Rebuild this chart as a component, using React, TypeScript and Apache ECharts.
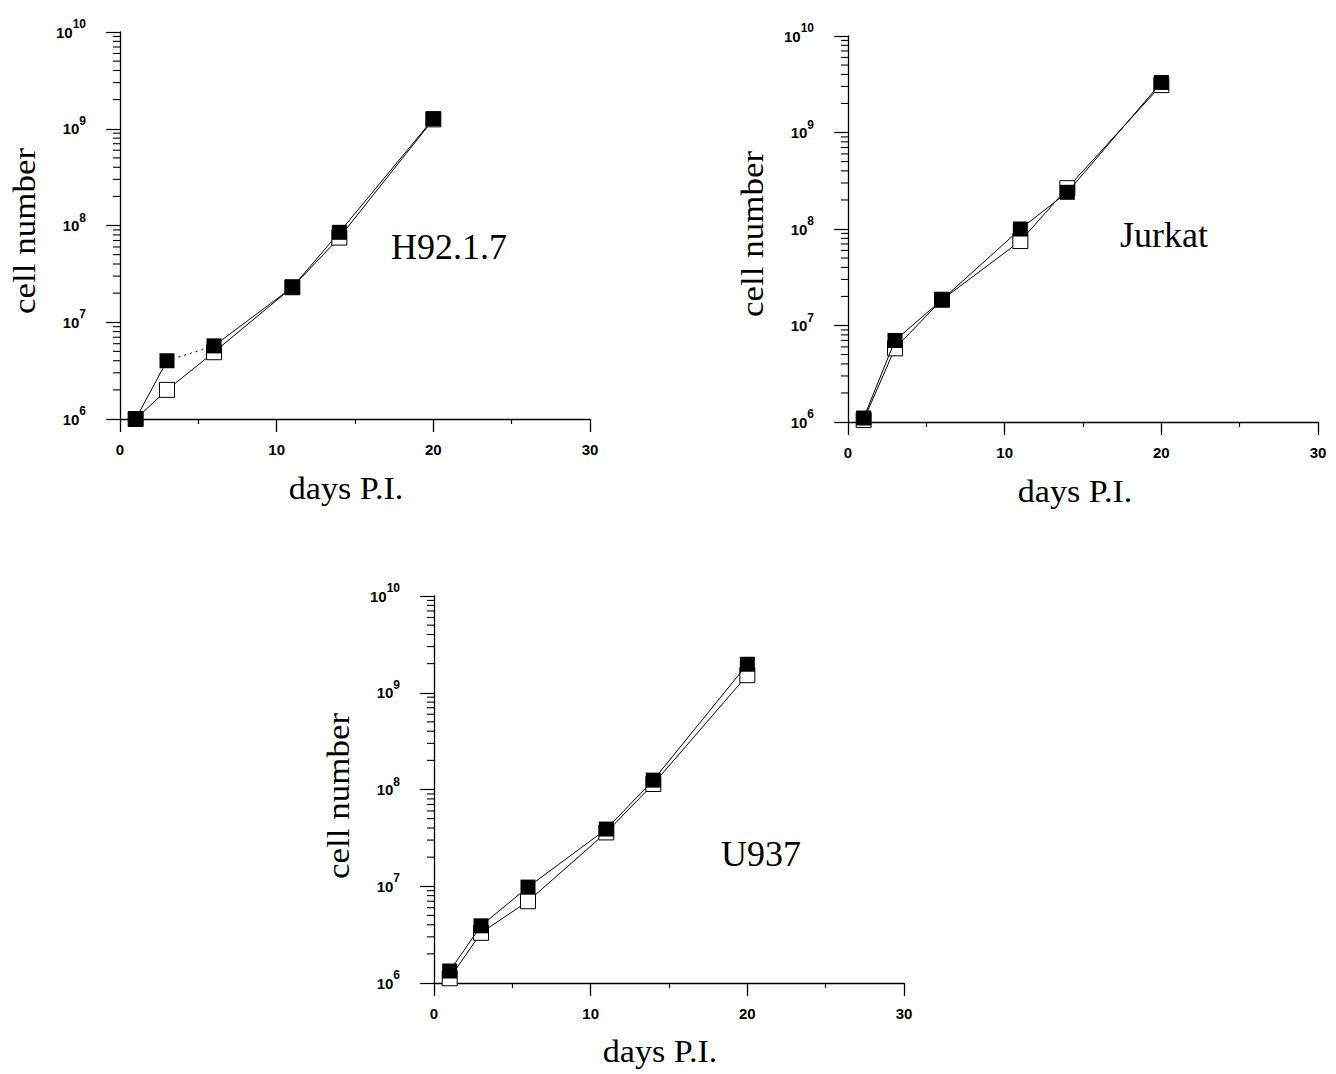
import React, { useEffect, useRef } from "react";
import * as echarts from "echarts";

const days = [1, 3, 6, 11, 14, 20];
const h92Filled = [1.0e6, 4.0e6, 5.7e6, 2.3e7, 8.5e7, 1.27e9];
const h92Open = [1.0e6, 2.0e6, 4.9e6, 2.3e7, 7.5e7, 1.25e9];
const jurkatFilled = [1.1e6, 7.0e6, 1.85e7, 1.0e8, 2.4e8, 3.3e9];
const jurkatOpen = [1.05e6, 5.8e6, 1.85e7, 7.5e7, 2.65e8, 3.1e9];
const u937Filled = [1.33e6, 3.9e6, 9.8e6, 3.9e7, 1.25e8, 1.97e9];
const u937Open = [1.12e6, 3.3e6, 7.0e6, 3.6e7, 1.14e8, 1.52e9];

const yMin = 1e6;
const yMax = 1e10;
const panelNames = ["H92.1.7", "Jurkat", "U937"];
const xTitle = "days P.I.";
const yTitle = "cell number";

const SANS = "Liberation Sans, Arial, sans-serif";
const SERIF = "Liberation Serif, Times New Roman, serif";

const grids = [
  { left: 120, top: 32, width: 470, height: 387 },
  { left: 848, top: 36, width: 470, height: 386 },
  { left: 434, top: 596, width: 470, height: 387 },
];

const yTitlePos = [
  { x: 25, y: 231 },
  { x: 753, y: 234 },
  { x: 339, y: 796 },
];
const xTitlePos = [
  { x: 346, y: 489 },
  { x: 1075, y: 492 },
  { x: 660, y: 1052 },
];
const panelLabelPos = [
  { x: 391, y: 247 },
  { x: 1120, y: 235 },
  { x: 721, y: 854 },
];

function pairs(vals: number[]) {
  return days.map((d, i) => [d, vals[i]]);
}

function minorValues() {
  const out: number[][] = [];
  for (let e = 6; e < 10; e++) {
    for (let m = 2; m <= 9; m++) out.push([0, m * Math.pow(10, e)]);
  }
  return out;
}

export default function App() {
  const ref = useRef<HTMLDivElement>(null);
  useEffect(() => {
    if (!ref.current) return;
    const chart = echarts.init(ref.current, null, { renderer: "svg" });

    const xAxes = grids.map((_, i) => ({
      type: "value",
      gridIndex: i,
      min: 0,
      max: 30,
      interval: 10,
      axisLine: { show: true, onZero: false, lineStyle: { color: "#000", width: 1.3 } },
      axisTick: { show: true, length: 13, lineStyle: { color: "#000", width: 1.3 } },
      minorTick: { show: true, splitNumber: 2, length: 5, lineStyle: { color: "#000", width: 1.2 } },
      splitLine: { show: false },
      axisLabel: {
        margin: 23,
        color: "#000",
        fontFamily: SANS,
        fontWeight: "bold",
        fontSize: 15,
      },
    }));

    const yAxes = grids.map((_, i) => ({
      type: "log",
      logBase: 10,
      gridIndex: i,
      min: yMin,
      max: yMax,
      axisLine: { show: true, onZero: false, lineStyle: { color: "#000", width: 1.3 } },
      axisTick: { show: true, length: 14, lineStyle: { color: "#000", width: 1.2 } },
      splitLine: { show: false },
      axisLabel: {
        margin: 34,
        color: "#000",
        formatter: (v: number) => `{b|10}{s|${Math.round(Math.log10(v))}}`,
        rich: {
          b: { fontFamily: SANS, fontWeight: "bold", fontSize: 15, color: "#000" },
          s: {
            fontFamily: SANS,
            fontWeight: "bold",
            fontSize: 12,
            color: "#000",
            padding: [0, 0, 16, 0],
          },
        },
      },
    }));

    const panelData = [
      { filled: h92Filled, open: h92Open, dotted: true },
      { filled: jurkatFilled, open: jurkatOpen, dotted: false },
      { filled: u937Filled, open: u937Open, dotted: false },
    ];

    const series: any[] = [];
    panelData.forEach((p, i) => {
      series.push({
        type: "custom",
        xAxisIndex: i,
        yAxisIndex: i,
        silent: true,
        clip: false,
        data: minorValues(),
        renderItem: (params: any, api: any) => {
          const pt = api.coord([api.value(0), api.value(1)]);
          return {
            type: "line",
            shape: { x1: pt[0] - 7, y1: pt[1], x2: pt[0], y2: pt[1] },
            style: { stroke: "#000", lineWidth: 1.1 },
          };
        },
      });
      series.push({
        type: "line",
        xAxisIndex: i,
        yAxisIndex: i,
        data: pairs(p.open),
        symbol: "rect",
        symbolSize: 15,
        showSymbol: true,
        lineStyle: { color: "#000", width: 1 },
        itemStyle: { color: "#fff", borderColor: "#000", borderWidth: 1, opacity: 1 },
        z: 3,
      });
      const fp = pairs(p.filled);
      if (p.dotted) {
        series.push({
          type: "line",
          xAxisIndex: i,
          yAxisIndex: i,
          data: fp.slice(0, 2),
          symbol: "none",
          lineStyle: { color: "#000", width: 1 },
          z: 2,
        });
        series.push({
          type: "line",
          xAxisIndex: i,
          yAxisIndex: i,
          data: fp.slice(1, 3),
          symbol: "none",
          lineStyle: { color: "#000", width: 1, type: [2, 4] },
          z: 2,
        });
        series.push({
          type: "line",
          xAxisIndex: i,
          yAxisIndex: i,
          data: fp.slice(2),
          symbol: "none",
          lineStyle: { color: "#000", width: 1 },
          z: 2,
        });
        series.push({
          type: "scatter",
          xAxisIndex: i,
          yAxisIndex: i,
          data: fp,
          symbol: "rect",
          symbolSize: 15,
          itemStyle: { color: "#000", opacity: 1 },
          z: 4,
        });
      } else {
        series.push({
          type: "line",
          xAxisIndex: i,
          yAxisIndex: i,
          data: fp,
          symbol: "rect",
          symbolSize: 15,
          showSymbol: true,
          lineStyle: { color: "#000", width: 1 },
          itemStyle: { color: "#000", borderColor: "#000", borderWidth: 0, opacity: 1 },
          z: 4,
        });
      }
    });

    const graphics: any[] = [];
    grids.forEach((_, i) => {
      graphics.push({
        type: "text",
        x: yTitlePos[i].x,
        y: yTitlePos[i].y,
        rotation: Math.PI / 2,
        scaleX: 1.13,
        style: {
          text: yTitle,
          font: `31px ${SERIF}`,
          fill: "#000",
          textAlign: "center",
          textVerticalAlign: "middle",
          align: "center",
          verticalAlign: "middle",
        },
      });
      graphics.push({
        type: "text",
        x: xTitlePos[i].x,
        y: xTitlePos[i].y,
        scaleX: 1.1,
        style: {
          text: xTitle,
          font: `31px ${SERIF}`,
          fill: "#000",
          textAlign: "center",
          textVerticalAlign: "middle",
          align: "center",
          verticalAlign: "middle",
        },
      });
      graphics.push({
        type: "text",
        x: panelLabelPos[i].x,
        y: panelLabelPos[i].y,
        style: {
          text: panelNames[i],
          font: `36px ${SERIF}`,
          fill: "#000",
          textAlign: "left",
          textVerticalAlign: "middle",
          align: "left",
          verticalAlign: "middle",
        },
      });
    });

    chart.setOption({
      animation: false,
      backgroundColor: "#fff",
      grid: grids.map((g) => ({ ...g, containLabel: false })),
      xAxis: xAxes,
      yAxis: yAxes,
      series,
      graphic: graphics,
    });

    return () => chart.dispose();
  }, []);

  return (
    <div
      ref={ref}
      style={{ position: "absolute", left: 0, top: 0, width: 1336, height: 1074 }}
    />
  );
}
